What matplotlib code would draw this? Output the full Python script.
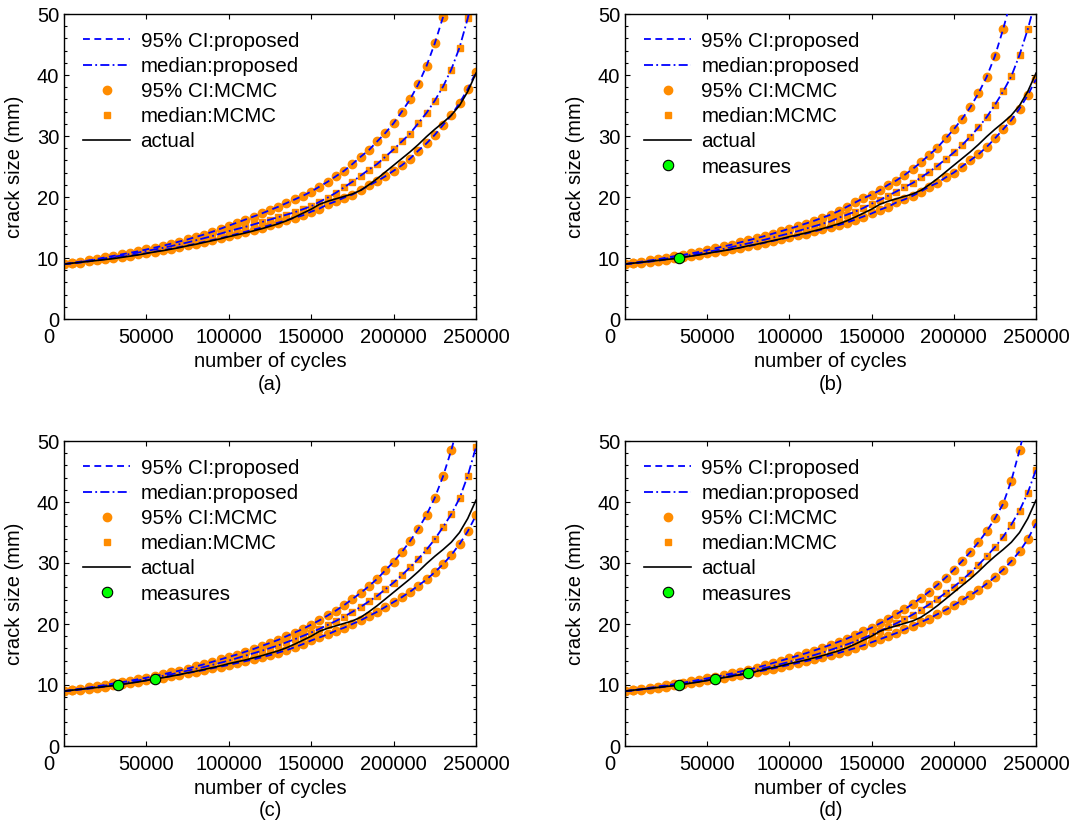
import numpy as np
import matplotlib
matplotlib.use('Agg')
from matplotlib import pyplot as plt
from matplotlib.ticker import MultipleLocator
from matplotlib.transforms import ScaledTranslation

plt.rcParams['font.family'] = ['Liberation Sans', 'DejaVu Sans']
plt.rcParams['font.size'] = 14

cycles = np.arange(0, 250001, 5000)

actual = [9.0, 9.15, 9.3, 9.45, 9.6, 9.75, 9.9, 10.1, 10.3, 10.5, 10.75, 11.0, 11.2, 11.45, 11.7,
          12.0, 12.25, 12.55, 12.85, 13.15, 13.5, 13.8, 14.1, 14.45, 14.8, 15.2, 15.6, 16.1, 16.7,
          17.35, 18.0, 18.8, 19.3, 19.7, 20.1, 20.5, 21.1, 22.0, 23.0, 24.1, 25.2, 26.3, 27.4,
          28.6, 29.9, 31.1, 32.2, 33.4, 35.0, 37.3, 40.3]

# panel (a): no measures
upper_a = [9.0, 9.2, 9.4, 9.6, 9.85, 10.1, 10.35, 10.6, 10.85, 11.1, 11.4, 11.7, 12.0, 12.35, 12.7,
           13.05, 13.45, 13.85, 14.3, 14.8, 15.3, 15.8, 16.3, 16.8, 17.3, 17.85, 18.4, 19.0, 19.6,
           20.2, 20.9, 21.7, 22.5, 23.4, 24.3, 25.4, 26.6, 27.7, 29.1, 30.5, 32.1, 34.0, 36.0,
           38.5, 41.5, 45.2, 49.5, 54.5, 60.5, 67.5, 76.0]
median_a = [9.0, 9.15, 9.35, 9.55, 9.75, 9.95, 10.2, 10.4, 10.65, 10.9, 11.15, 11.4, 11.65, 11.95, 12.25,
            12.55, 12.9, 13.25, 13.6, 14.0, 14.4, 14.75, 15.1, 15.5, 15.9, 16.3, 16.7, 17.1, 17.5,
            18.0, 18.5, 19.2, 19.9, 20.7, 21.6, 22.5, 23.5, 24.5, 25.4, 26.6, 27.8, 29.1, 30.4,
            32.1, 33.8, 35.8, 38.1, 40.9, 44.5, 49.3, 55.0]
lower_a = [9.0, 9.1, 9.25, 9.45, 9.6, 9.8, 10.0, 10.2, 10.4, 10.6, 10.8, 11.05, 11.3, 11.55, 11.8,
           12.05, 12.35, 12.65, 12.95, 13.25, 13.6, 13.95, 14.3, 14.65, 15.0, 15.4, 15.8, 16.2, 16.6,
           17.0, 17.6, 18.1, 18.8, 19.3, 19.9, 20.4, 21.1, 21.9, 22.6, 23.4, 24.3, 25.2, 26.3,
           27.6, 28.8, 30.2, 31.8, 33.4, 35.4, 37.7, 40.5]

# panel (b): one measure
upper_b = [9.0, 9.2, 9.4, 9.6, 9.8, 10.05, 10.3, 10.5, 10.75, 11.0, 11.3, 11.6, 11.9, 12.2, 12.55,
           12.9, 13.25, 13.6, 14.0, 14.4, 14.8, 15.2, 15.65, 16.1, 16.6, 17.1, 17.7, 18.4, 19.1,
           19.8, 20.4, 21.1, 22.0, 22.7, 23.6, 24.6, 25.7, 26.9, 28.1, 29.6, 31.1, 32.8, 34.7,
           37.0, 39.7, 43.1, 47.5, 52.5, 58.5, 65.5, 74.0]
median_b = [9.0, 9.15, 9.3, 9.5, 9.7, 9.9, 10.1, 10.3, 10.5, 10.75, 11.0, 11.25, 11.5, 11.8, 12.1,
            12.4, 12.7, 13.0, 13.35, 13.7, 14.05, 14.4, 14.8, 15.2, 15.6, 16.0, 16.6, 17.1, 17.6,
            18.2, 18.9, 19.5, 20.2, 20.9, 21.6, 22.3, 23.2, 24.1, 25.1, 26.2, 27.3, 28.5, 29.9,
            31.4, 33.1, 35.1, 37.3, 39.8, 43.3, 47.5, 52.5]
lower_b = [9.0, 9.1, 9.25, 9.4, 9.55, 9.75, 9.95, 10.15, 10.35, 10.55, 10.75, 11.0, 11.2, 11.45, 11.7,
           11.95, 12.2, 12.5, 12.8, 13.1, 13.4, 13.7, 14.0, 14.35, 14.7, 15.05, 15.4, 15.8, 16.3,
           16.8, 17.3, 17.9, 18.4, 19.1, 19.6, 20.2, 20.9, 21.7, 22.3, 23.2, 24.0, 25.0, 26.0,
           27.0, 28.2, 29.6, 31.1, 32.6, 34.5, 36.7, 39.3]

# panel (c): two measures
upper_c = [9.0, 9.2, 9.4, 9.6, 9.8, 10.0, 10.25, 10.45, 10.7, 10.95, 11.2, 11.45, 11.75, 12.05, 12.35,
           12.7, 13.05, 13.4, 13.8, 14.2, 14.6, 15.0, 15.45, 15.9, 16.4, 16.9, 17.4, 18.0, 18.6,
           19.2, 19.9, 20.6, 21.4, 22.2, 23.1, 24.1, 25.1, 26.2, 27.4, 28.8, 30.2, 31.8, 33.6,
           35.6, 37.9, 40.7, 44.2, 48.5, 53.5, 59.5, 66.5]
median_c = [9.0, 9.15, 9.3, 9.5, 9.7, 9.9, 10.1, 10.3, 10.5, 10.75, 11.0, 11.25, 11.5, 11.75, 12.05,
            12.35, 12.65, 12.95, 13.3, 13.65, 14.0, 14.4, 14.8, 15.2, 15.6, 16.05, 16.5, 17.0, 17.5,
            18.05, 18.6, 19.2, 19.85, 20.5, 21.2, 22.0, 22.8, 23.7, 24.6, 25.7, 26.8, 28.0, 29.3,
            30.7, 32.2, 33.9, 35.9, 38.0, 40.6, 44.3, 49.0]
lower_c = [9.0, 9.1, 9.25, 9.4, 9.55, 9.75, 9.95, 10.15, 10.35, 10.55, 10.75, 11.0, 11.2, 11.45, 11.7,
           11.95, 12.2, 12.45, 12.75, 13.0, 13.3, 13.6, 13.9, 14.2, 14.55, 14.9, 15.3, 15.7, 16.2,
           16.7, 17.3, 17.8, 18.3, 18.9, 19.4, 20.0, 20.6, 21.3, 22.0, 22.8, 23.6, 24.4, 25.3,
           26.3, 27.3, 28.5, 29.8, 31.3, 33.1, 35.2, 37.8]

# panel (d): three measures
upper_d = [9.0, 9.15, 9.35, 9.55, 9.75, 9.95, 10.15, 10.35, 10.6, 10.85, 11.1, 11.35, 11.6, 11.9, 12.2,
           12.5, 12.85, 13.2, 13.6, 14.0, 14.4, 14.8, 15.2, 15.65, 16.1, 16.6, 17.1, 17.6, 18.2,
           18.8, 19.4, 20.1, 20.8, 21.6, 22.4, 23.3, 24.3, 25.3, 26.4, 27.6, 28.9, 30.3, 31.8,
           33.4, 35.2, 37.3, 39.7, 43.5, 48.5, 54.0, 60.5]
median_d = [9.0, 9.12, 9.3, 9.48, 9.66, 9.85, 10.05, 10.25, 10.45, 10.7, 10.9, 11.15, 11.4, 11.65, 11.9,
            12.2, 12.5, 12.8, 13.1, 13.45, 13.8, 14.15, 14.5, 14.9, 15.3, 15.75, 16.2, 16.65, 17.15,
            17.7, 18.25, 18.85, 19.45, 20.1, 20.8, 21.55, 22.35, 23.2, 24.1, 25.1, 26.1, 27.2, 28.4,
            29.7, 31.1, 32.6, 34.3, 36.3, 38.6, 41.5, 45.3]
lower_d = [9.0, 9.1, 9.25, 9.4, 9.55, 9.75, 9.95, 10.15, 10.35, 10.55, 10.75, 10.95, 11.2, 11.4, 11.65,
           11.9, 12.15, 12.4, 12.7, 13.0, 13.3, 13.6, 13.9, 14.2, 14.55, 14.9, 15.25, 15.65, 16.05,
           16.5, 17.0, 17.5, 18.0, 18.5, 19.1, 19.7, 20.3, 20.9, 21.6, 22.3, 23.1, 23.9, 24.7,
           25.6, 26.6, 27.7, 28.9, 30.3, 31.9, 33.9, 36.5]

meas_cycles = [33000, 55000, 75000]
meas_size = [10.0, 11.0, 12.0]

panels = [
    ('(a)', upper_a, median_a, lower_a, 0),
    ('(b)', upper_b, median_b, lower_b, 1),
    ('(c)', upper_c, median_c, lower_c, 2),
    ('(d)', upper_d, median_d, lower_d, 3),
]

xticks = [0, 50000, 100000, 150000, 200000, 250000]
xticklabels = ['0', '50000', '100000', '150000', '200000', '250000']

ORANGE = '#FF8C00'
BLUE = '#0000FF'
FS = 14.5

W, H = 1077, 825
fig = plt.figure(figsize=(W / 100, H / 100), dpi=100)
# axes boxes in pixels: left, top, right, bottom
boxes = [(64, 14, 476, 319), (625, 14, 1036, 319), (64, 441, 476, 746), (625, 441, 1036, 746)]

for (tag, up, med, lo, nmeas), (l, t, r, b) in zip(panels, boxes):
    ax = fig.add_axes([l / W, 1 - b / H, (r - l) / W, (b - t) / H])

    h_ci_m, = ax.plot(cycles, up, 'o', color=ORANGE, ms=6, mec=ORANGE, zorder=2)
    ax.plot(cycles, lo, 'o', color=ORANGE, ms=6, mec=ORANGE, zorder=2)
    h_med_m, = ax.plot(cycles, med, 's', color=ORANGE, ms=4, mec=ORANGE, zorder=2)

    h_ci_p, = ax.plot(cycles, up, color=BLUE, lw=1.3, ls=(0, (3.8, 2.5)), zorder=3)
    ax.plot(cycles, lo, color=BLUE, lw=1.3, ls=(0, (3.8, 2.5)), zorder=3)
    h_med_p, = ax.plot(cycles, med, color=BLUE, lw=1.3, ls=(0, (5, 1.8, 1, 1.8)), zorder=3)

    h_act, = ax.plot(cycles, actual, color='black', lw=1.2, zorder=4)

    handles = [h_ci_p, h_med_p, h_ci_m, h_med_m, h_act]
    labels = ['95% CI:proposed', 'median:proposed', '95% CI:MCMC', 'median:MCMC', 'actual']
    if nmeas > 0:
        h_meas, = ax.plot(meas_cycles[:nmeas], meas_size[:nmeas], 'o', color='#00FF00',
                          mec='black', mew=0.8, ms=7.5, zorder=5)
        handles.append(h_meas)
        labels.append('measures')

    ax.legend(handles, labels, loc='upper left', bbox_to_anchor=(0.046, 0.942),
              frameon=False, borderpad=0, borderaxespad=0, handlelength=2.3,
              handletextpad=0.5, labelspacing=0.3, fontsize=14.8)

    ax.set_xlim(0, 250000)
    ax.set_ylim(0, 50)
    ax.set_xticks(xticks)
    ax.set_xticklabels(xticklabels)
    ax.set_yticks([0, 10, 20, 30, 40, 50])
    ax.yaxis.set_minor_locator(MultipleLocator(2))
    ax.tick_params(which='both', direction='in', top=True, right=True, labelsize=FS, width=0.8)
    ax.tick_params(which='major', length=3.5)
    ax.tick_params(which='minor', length=2)
    ax.tick_params(axis='x', pad=6.5)
    ax.tick_params(axis='y', pad=3.5)
    for s in ax.spines.values():
        s.set_linewidth(1.0)

    # the "0" cycle label sits to the left of the axis corner
    lbl = ax.xaxis.get_major_ticks()[0].label1
    lbl.set_transform(lbl.get_transform() + ScaledTranslation(-15 / 100, 0, fig.dpi_scale_trans))

    ax.set_ylabel('crack size (mm)', fontsize=FS)
    ax.yaxis.set_label_coords(-40 / (r - l), 0.5)
    ax.text(0.5, -42 / (b - t), 'number of cycles', transform=ax.transAxes,
            ha='center', va='center', fontsize=FS)
    ax.text(0.5, -65 / (b - t), tag, transform=ax.transAxes,
            ha='center', va='center', fontsize=FS)

fig.savefig('out.png', dpi=100)
